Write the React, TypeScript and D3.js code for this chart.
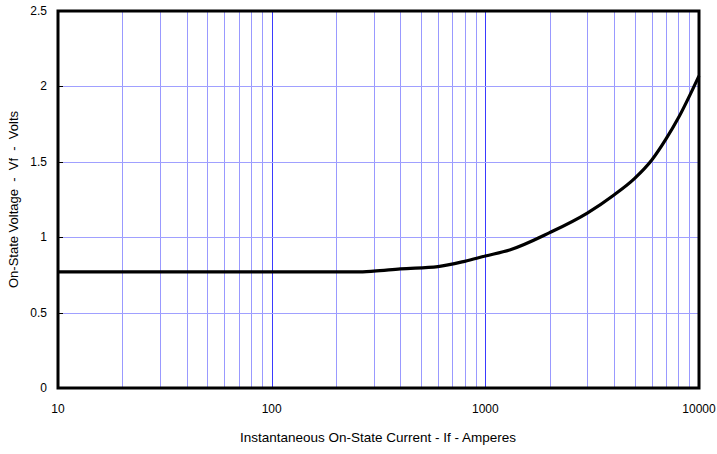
import React from "react";
import * as d3 from "d3";

const currents = [10, 100, 200, 250, 300, 400, 600, 800, 1000, 1300, 2000, 3000, 4000, 5000, 6000, 7000, 8000, 10000];
const voltages = [0.77, 0.77, 0.77, 0.77, 0.775, 0.79, 0.805, 0.84, 0.875, 0.915, 1.03, 1.16, 1.28, 1.39, 1.51, 1.65, 1.79, 2.07];
const xTicks = [10, 100, 1000, 10000];
const yTicks = [0, 0.5, 1, 1.5, 2, 2.5];
const xMinor = [20, 30, 40, 50, 60, 70, 80, 90, 200, 300, 400, 500, 600, 700, 800, 900, 2000, 3000, 4000, 5000, 6000, 7000, 8000, 9000];

export default function App() {
  const W = 717, H = 454;
  const L = 58, R = 699, T = 11, B = 388;
  const x = d3.scaleLog().domain([10, 10000]).range([L, R]);
  const y = d3.scaleLinear().domain([0, 2.5]).range([B, T]);
  const line = d3.line<number>().x((d, i) => x(currents[i])).y((d) => y(d)).curve(d3.curveMonotoneX);
  const font = "'Liberation Sans', Arial, sans-serif";
  const px = (v: number) => Math.round(x(v)) + 0.5;
  return (
    <svg width={W} height={H} style={{ position: "absolute", left: 0, top: 0 }} fontFamily={font}>
      <rect width={W} height={H} fill="#fff" />
      {xMinor.map((v) => (
        <line key={"m" + v} x1={px(v)} x2={px(v)} y1={T} y2={B} stroke="#9999ff" strokeWidth={1} />
      ))}
      {xTicks.map((v) => (
        <line key={"M" + v} x1={px(v)} x2={px(v)} y1={T} y2={B} stroke="#3a3aff" strokeWidth={1} />
      ))}
      {yTicks.map((v) => (
        <line key={"h" + v} x1={L} x2={R} y1={Math.round(y(v)) + 0.5} y2={Math.round(y(v)) + 0.5} stroke="#a0a0ff" strokeWidth={1} />
      ))}
      {yTicks.map((v) => (
        <line key={"t" + v} x1={L} x2={L + 5} y1={Math.round(y(v)) + 0.5} y2={Math.round(y(v)) + 0.5} stroke="#000" strokeWidth={1} />
      ))}
      <path d={line(voltages) || ""} fill="none" stroke="#000" strokeWidth={3.2} />
      <rect x={L} y={T} width={R - L} height={B - T} fill="none" stroke="#000" strokeWidth={3} />
      {yTicks.map((v) => (
        <text key={"yl" + v} x={47} y={y(v) + 4} textAnchor="end" fontSize={12}>{String(v)}</text>
      ))}
      {xTicks.map((v) => (
        <text key={"xl" + v} x={x(v)} y={413} textAnchor="middle" fontSize={12}>{String(v)}</text>
      ))}
      <text x={378} y={442} textAnchor="middle" fontSize={13.5}>Instantaneous On-State Current - If - Amperes</text>
      <text transform={`translate(18,${(T + B) / 2}) rotate(-90)`} textAnchor="middle" fontSize={13} style={{ whiteSpace: "pre" }}>
        {"On-State Voltage  -  Vf  -  Volts"}
      </text>
    </svg>
  );
}
